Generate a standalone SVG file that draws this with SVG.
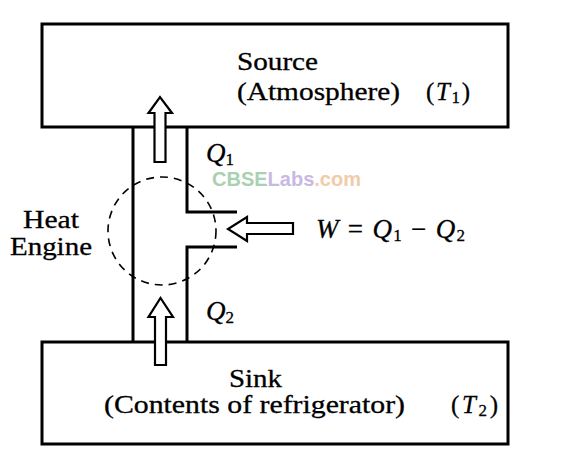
<svg xmlns="http://www.w3.org/2000/svg" width="566" height="460" viewBox="0 0 566 460">
<style>
.box{fill:none;stroke:#000;stroke-width:3}
.pipe{fill:none;stroke:#000;stroke-width:3}
.arrow{fill:#fff;stroke:#000;stroke-width:2.2;stroke-linejoin:miter}
.circ{fill:none;stroke:#000;stroke-width:1.6;stroke-dasharray:8 6}
text{font-family:"Liberation Serif","Times New Roman",serif;font-size:25px;fill:#000;stroke:#000;stroke-width:0.3}
.lbl{font-size:27px}
.it{font-style:italic}
.sub{font-size:17px}
.wm{font-family:"Liberation Sans",Arial,sans-serif;font-weight:bold;font-size:20px;stroke:none}
</style>
<rect width="566" height="460" fill="#fff"/>
<g id="source">
<rect class="box" x="42" y="24" width="466" height="103"/>
<text x="237" y="70" textLength="81" lengthAdjust="spacingAndGlyphs">Source</text>
<text x="237" y="100" textLength="163" lengthAdjust="spacingAndGlyphs">(Atmosphere)</text>
<text x="426" y="100" textLength="44">(<tspan class="it">T</tspan><tspan class="sub" dy="3">1</tspan><tspan dy="-3">)</tspan></text>
</g>
<g id="sink">
<rect class="box" x="42" y="342" width="466" height="102"/>
<text x="229" y="387" textLength="53" lengthAdjust="spacingAndGlyphs">Sink</text>
<text x="104" y="413" textLength="301" lengthAdjust="spacingAndGlyphs">(Contents of refrigerator)</text>
<text x="451" y="413" textLength="47">(<tspan class="it">T</tspan><tspan class="sub" dy="3">2</tspan><tspan dy="-3">)</tspan></text>
</g>
<g id="engine">
<path class="pipe" d="M133 127V342M187 127V212H237M237 247H187V342"/>
<circle class="circ" cx="162" cy="231" r="54"/>
<text x="23" y="228" textLength="56" lengthAdjust="spacingAndGlyphs">Heat</text>
<text x="10" y="255" textLength="82" lengthAdjust="spacingAndGlyphs">Engine</text>
</g>
<g id="connectors">
<path class="arrow" d="M154.5 162V113H148.5L160 97L172 113H165.5V162Z"/>
<path class="arrow" d="M155 365V317H148.5L160.5 298L173 317H166V365Z"/>
<path class="arrow" d="M293 223H247V217L228 229L247 241V234H293Z"/>
</g>
<g id="labels">
<text class="lbl" x="206" y="162"><tspan class="it">Q</tspan><tspan class="sub" dy="3">1</tspan></text>
<text class="lbl" x="206" y="320"><tspan class="it">Q</tspan><tspan class="sub" dy="3">2</tspan></text>
<text class="lbl" x="316" y="238" textLength="149"><tspan class="it">W</tspan> = <tspan class="it">Q</tspan><tspan class="sub" dy="3">1</tspan><tspan dy="-3"> − </tspan><tspan class="it">Q</tspan><tspan class="sub" dy="3">2</tspan></text>
</g>
<text class="wm" x="212" y="186"><tspan fill="#a9d1b1">CBSE</tspan><tspan fill="#c8b9e2">Labs</tspan><tspan fill="#f2cba8">.com</tspan></text>
</svg>
